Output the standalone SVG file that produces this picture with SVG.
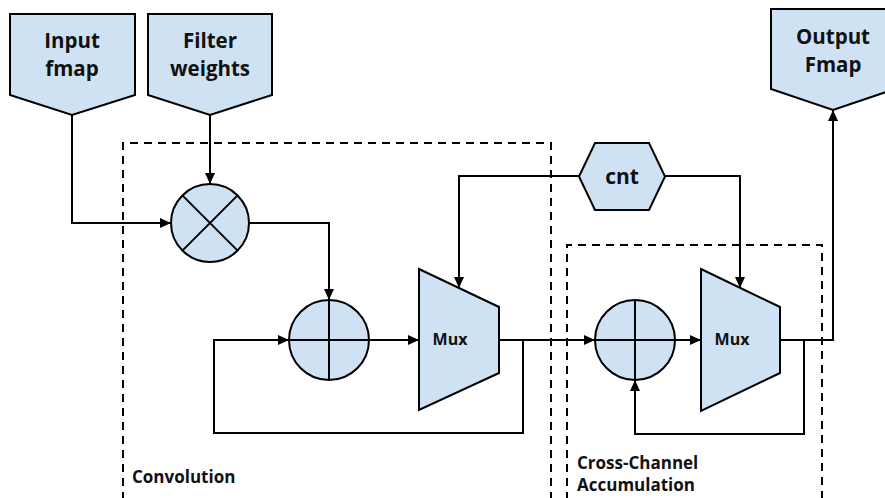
<svg xmlns="http://www.w3.org/2000/svg" width="885" height="498" viewBox="0 0 885 498">
<defs>
<marker id="arr" markerUnits="userSpaceOnUse" markerWidth="12" markerHeight="10" refX="11" refY="5" orient="auto">
<path d="M0,0 L11,5 L0,10 Z" fill="#000"/>
</marker>
<style>
.n{fill:#cfe2f3;stroke:#000;stroke-width:2;stroke-linejoin:miter}
.l{fill:none;stroke:#000;stroke-width:2}
.c{fill:none;stroke:#000;stroke-width:2}
.d{fill:none;stroke:#000;stroke-width:2;stroke-dasharray:8,6}
.t{font-family:"Open Sans","DejaVu Sans",sans-serif;font-weight:bold;fill:#111}
</style>
</defs>
<rect width="885" height="498" fill="#fff"/>
<g id="conv-box">
<path class="d" d="M123,500 L123,143 L551,143 L551,500"/>
<text class="t" x="132" y="483" font-size="17">Convolution</text>
</g>
<g id="cross-box">
<path class="d" d="M567,500 L567,245 L822,245 L822,500"/>
<text class="t" x="577" y="469" font-size="17">Cross-Channel</text>
<text class="t" x="577" y="491" font-size="17">Accumulation</text>
</g>
<g id="connectors">
<path class="c" d="M72,115 L72,223 L171,223" marker-end="url(#arr)"/>
<path class="c" d="M210,115 L210,184" marker-end="url(#arr)"/>
<path class="c" d="M249,223 L329,223 L329,300" marker-end="url(#arr)"/>
<path class="c" d="M369,340 L419,340" marker-end="url(#arr)"/>
<path class="c" d="M523,340 L523,433 L214,433 L214,340 L289,340" marker-end="url(#arr)"/>
<path class="c" d="M499,340 L595,340" marker-end="url(#arr)"/>
<path class="c" d="M579,176 L459,176 L459,288" marker-end="url(#arr)"/>
<path class="c" d="M665,176 L740,176 L740,288" marker-end="url(#arr)"/>
<path class="c" d="M675,340 L701,340" marker-end="url(#arr)"/>
<path class="c" d="M780,340 L833,340 L833,110" marker-end="url(#arr)"/>
<path class="c" d="M804,340 L804,434 L635,434 L635,380" marker-end="url(#arr)"/>
</g>
<g id="input-fmap">
<path class="n" d="M10,14 L135,14 L135,95 L72,115 L10,95 Z"/>
<text class="t" x="72" y="48" font-size="20.5" text-anchor="middle">Input</text>
<text class="t" x="72" y="76" font-size="20.5" text-anchor="middle">fmap</text>
</g>
<g id="filter-weights">
<path class="n" d="M148,14 L272,14 L272,95 L210,115 L148,95 Z"/>
<text class="t" x="210" y="48" font-size="20.5" text-anchor="middle">Filter</text>
<text class="t" x="210" y="76" font-size="20.5" text-anchor="middle">weights</text>
</g>
<g id="output-fmap">
<path class="n" d="M771,9 L895,9 L895,89 L833,110 L771,89 Z"/>
<text class="t" x="833" y="44" font-size="20.5" text-anchor="middle">Output</text>
<text class="t" x="833" y="72" font-size="20.5" text-anchor="middle">Fmap</text>
</g>
<g id="multiplier">
<circle class="n" cx="210" cy="223" r="39"/>
<path class="l" d="M182.4,195.4 L237.6,250.6 M237.6,195.4 L182.4,250.6"/>
</g>
<g id="adder1">
<circle class="n" cx="329" cy="340" r="40"/>
<path class="l" d="M289,340 L369,340 M329,300 L329,380"/>
</g>
<g id="mux1">
<path class="n" d="M419,269 L499,307 L499,373 L419,410 Z"/>
<text class="t" x="450" y="345" font-size="16" text-anchor="middle">Mux</text>
</g>
<g id="cnt">
<path class="n" d="M579,176.5 L595,143 L649,143 L665,176.5 L649,210 L595,210 Z"/>
<text class="t" x="622" y="184" font-size="21" text-anchor="middle">cnt</text>
</g>
<g id="adder2">
<circle class="n" cx="635" cy="340" r="40"/>
<path class="l" d="M595,340 L675,340 M635,300 L635,380"/>
</g>
<g id="mux2">
<path class="n" d="M701,269 L780,307 L780,373 L701,411 Z"/>
<text class="t" x="732" y="345" font-size="16" text-anchor="middle">Mux</text>
</g>
</svg>
